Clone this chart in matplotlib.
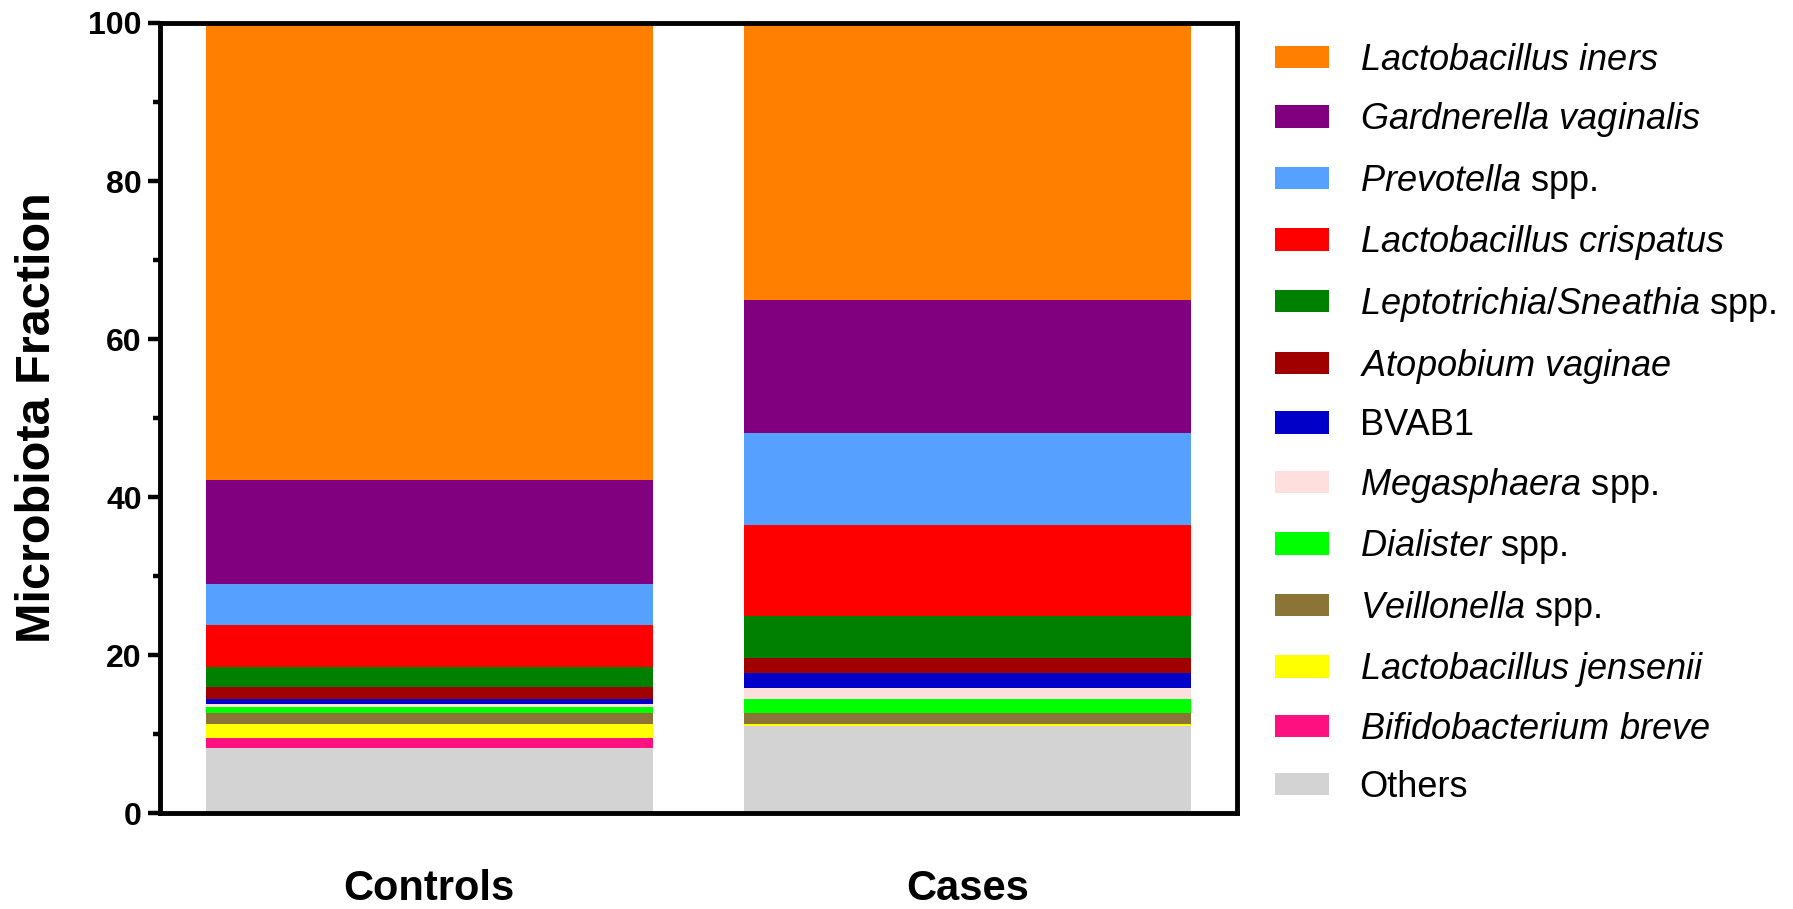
import numpy as np
from matplotlib import pyplot as plt
from matplotlib.patches import Patch
from matplotlib.ticker import MultipleLocator

plt.rcParams['font.family'] = ['Liberation Sans', 'DejaVu Sans']
plt.rcParams['mathtext.fontset'] = 'custom'
plt.rcParams['mathtext.rm'] = 'Liberation Sans'
plt.rcParams['mathtext.it'] = 'Liberation Sans:italic'

groups = ['Controls', 'Cases']

# bottom to top stacking order
taxa = ['Others', 'Bifidobacterium breve', 'Lactobacillus jensenii', 'Veillonella spp.',
        'Dialister spp.', 'Megasphaera spp.', 'BVAB1', 'Atopobium vaginae',
        'Leptotrichia/Sneathia spp.', 'Lactobacillus crispatus', 'Prevotella spp.',
        'Gardnerella vaginalis', 'Lactobacillus iners']
labels = [r'Others', r'$\it{Bifidobacterium\ breve}$', r'$\it{Lactobacillus\ jensenii}$',
          r'$\it{Veillonella}$ spp.', r'$\it{Dialister}$ spp.', r'$\it{Megasphaera}$ spp.',
          r'BVAB1', r'$\it{Atopobium\ vaginae}$', r'$\it{Leptotrichia/Sneathia}$ spp.',
          r'$\it{Lactobacillus\ crispatus}$', r'$\it{Prevotella}$ spp.',
          r'$\it{Gardnerella\ vaginalis}$', r'$\it{Lactobacillus\ iners}$']
colors = ['#d3d3d3', '#ff1080', '#ffff00', '#8b7536', '#00ff00', '#ffdede', '#0000c8',
          '#a00000', '#008000', '#ff0000', '#56a0ff', '#800080', '#ff8000']

controls = [8.2, 1.3, 1.8, 1.3, 0.8, 0.4, 0.6, 1.6, 2.5, 5.3, 5.2, 13.2, 57.8]
cases = [11.0, 0.0, 0.3, 1.3, 1.8, 1.4, 1.9, 1.9, 5.4, 11.4, 11.7, 16.8, 35.1]

fig = plt.figure(figsize=(17.93, 9.09), dpi=100)
ax = fig.add_axes([0.0892, 0.1056, 0.6007, 0.8691])

x = np.arange(len(groups))
bottom = np.zeros(len(groups))
for i in range(len(taxa)):
    vals = np.array([controls[i], cases[i]])
    ax.bar(x, vals, width=0.83, bottom=bottom, color=colors[i], edgecolor='none')
    bottom += vals

ax.set_xlim(-0.5, 1.5)
ax.set_ylim(0, 100)
ax.set_xticks(x)
ax.set_xticklabels(groups, fontsize=30, fontweight='bold')
ax.tick_params(axis='x', length=0, pad=40)
ax.yaxis.set_major_locator(MultipleLocator(20))
ax.yaxis.set_minor_locator(MultipleLocator(10))
ax.tick_params(axis='y', which='major', length=9, width=3.2, labelsize=23, pad=4)
ax.tick_params(axis='y', which='minor', length=5, width=3.2)
for lab in ax.get_yticklabels():
    lab.set_fontweight('bold')
for s in ax.spines.values():
    s.set_linewidth(3.5)
ax.set_ylabel('Microbiota Fraction', fontsize=35, fontweight='bold')
ax.yaxis.set_label_coords(-0.093, 0.5)

handles = [Patch(facecolor=colors[i], edgecolor='none') for i in range(len(taxa))][::-1]
fig.legend(handles, labels[::-1], loc='upper left', bbox_to_anchor=(0.711, 0.953),
           frameon=False, fontsize=26, handlelength=1.5, handleheight=0.58,
           handletextpad=0.85, labelspacing=0.625, borderpad=0, borderaxespad=0)

fig.savefig('out.png', dpi=100)
